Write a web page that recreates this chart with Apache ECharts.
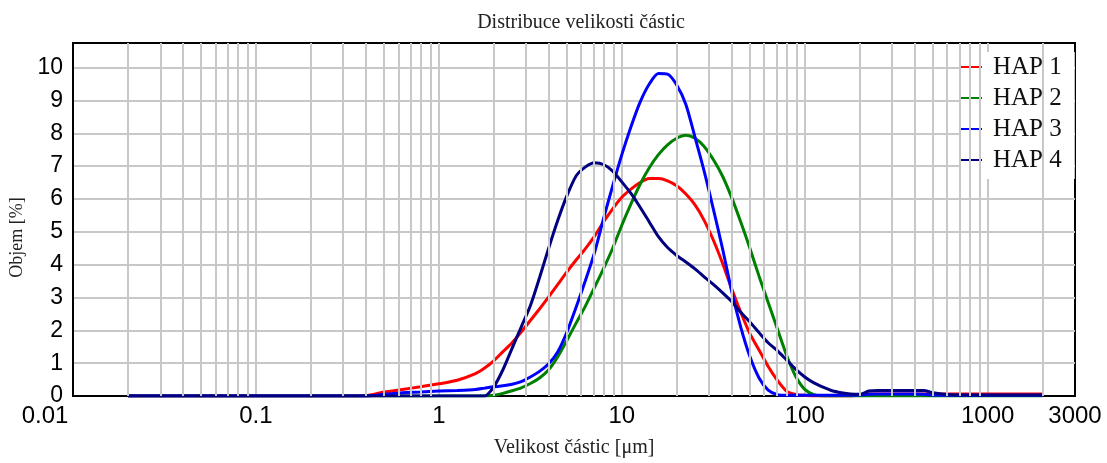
<!DOCTYPE html>
<html>
<head>
<meta charset="utf-8">
<script src="https://cdn.jsdelivr.net/npm/echarts@6/dist/echarts.min.js"></script>
<style>
html,body{margin:0;padding:0;background:#fff;}
#chart{width:1107px;height:463px;}
</style>
</head>
<body>
<div id="chart"></div>
<script>
// Particle size (µm), log-spaced
const sizes = [
  0.02, 0.316, 0.398, 0.501, 0.631, 0.794, 1, 1.259, 1.585,
  1.778, 1.995, 2.239, 2.512, 2.818, 3.162, 3.548, 3.981, 4.467, 5.012,
  5.623, 6.310, 7.079, 7.943, 8.913, 10, 11.22, 12.59, 14.13, 15.85,
  17.78, 19.95, 22.39, 25.12, 28.18, 31.62, 35.48, 39.81, 44.67, 50.12,
  56.23, 63.10, 70.79, 79.43, 89.13, 100, 112.2, 125.9, 141.3, 158.5,
  177.8, 199.5,
  223.9, 251.2, 316.2, 398.1, 446.7, 501.2, 631, 794, 1000, 1259, 1585, 1995];

const hap1 = [
  0, 0, 0.01, 0.12, 0.2, 0.28, 0.37, 0.48, 0.68,
  0.85, 1.07, 1.35, 1.62, 1.95, 2.3, 2.65, 3.02, 3.4, 3.78,
  4.14, 4.48, 4.86, 5.3, 5.7, 6.05, 6.3, 6.5, 6.62, 6.62,
  6.55, 6.4, 6.15, 5.82, 5.35, 4.75, 4.05, 3.27, 2.55, 1.9,
  1.4, 0.9, 0.48, 0.15, 0.05, 0.02, 0, 0, 0, 0,
  0, 0.03,
  0.06, 0.06, 0.06, 0.06, 0.06, 0.06, 0.06, 0.06, 0.06, 0.06, 0.06, 0.06];

const hap2 = [
  0, 0, 0, 0, 0, 0, 0, 0, 0,
  0, 0.02, 0.08, 0.16, 0.25, 0.38, 0.55, 0.8, 1.2, 1.7,
  2.22, 2.73, 3.3, 3.88, 4.5, 5.2, 5.85, 6.45, 6.95, 7.35,
  7.65, 7.85, 7.94, 7.85, 7.6, 7.2, 6.7, 6.05, 5.3, 4.5,
  3.65, 2.85, 2.05, 1.25, 0.6, 0.2, 0.04, 0, 0, 0,
  0, 0,
  0, 0, 0, 0, 0, 0, 0, 0, 0, 0, 0, 0];

const hap3 = [
  0, 0, 0, 0.05, 0.1, 0.12, 0.15, 0.17, 0.2,
  0.24, 0.28, 0.31, 0.36, 0.44, 0.58, 0.75, 0.98, 1.35, 1.95,
  2.7, 3.5, 4.35, 5.4, 6.4, 7.35, 8.2, 8.95, 9.5, 9.82,
  9.8, 9.47, 8.88, 7.88, 6.85, 5.7, 4.5, 3.2, 2.1, 1.2,
  0.55, 0.18, 0.04, 0.02, 0.02, 0.02, 0.02, 0.02, 0.02, 0.02,
  0.02, 0.03,
  0.05, 0.06, 0.06, 0.06, 0.05, 0.03, 0.02, 0.02, 0.02, 0.02, 0.02, 0.02];

const hap4 = [
  0, 0, 0, 0, 0, 0, 0, 0, 0,
  0, 0.28, 0.8, 1.45, 2.1, 2.75, 3.6, 4.5, 5.35, 6.1,
  6.7, 6.97, 7.1, 7.05, 6.85, 6.52, 6.17, 5.75, 5.3, 4.85,
  4.52, 4.28, 4.08, 3.87, 3.63, 3.4, 3.15, 2.88, 2.55, 2.25,
  1.93, 1.62, 1.38, 1.1, 0.82, 0.58, 0.4, 0.27, 0.16, 0.1,
  0.06, 0.05,
  0.15, 0.17, 0.17, 0.17, 0.17, 0.1, 0.04, 0.03, 0.03, 0.03, 0.03, 0.03];

const seriesNames = ['HAP 1', 'HAP 2', 'HAP 3', 'HAP 4'];
const seriesColors = ['#ff0000', '#008000', '#0000ff', '#000080'];
const seriesValues = [hap1, hap2, hap3, hap4];

const titleText = 'Distribuce velikosti částic';
const xName = 'Velikost částic [μm]';
const yName = 'Objem [%]';
const xMin = 0.01;
const xMax = 3000;

// minor vertical grid lines (2..9 × each decade)
const minorGrid = [];
for (let e = -2; e <= 3; e++) {
  for (let k = 2; k <= 9; k++) {
    const v = +(k * Math.pow(10, e)).toPrecision(3);
    if (v < xMax) minorGrid.push(v);
  }
}

const gridColor = '#c8c8c8';
const labelFont = 'Liberation Sans';
const chart = echarts.init(document.getElementById('chart'), null, {renderer: 'canvas'});

const series = seriesNames.map((name, si) => ({
  name: name,
  type: 'line',
  data: sizes.map((s, i) => [s, seriesValues[si][i]]),
  smooth: 0.25,
  symbol: 'none',
  z: 3,
  lineStyle: {width: 3, color: seriesColors[si]},
  itemStyle: {color: seriesColors[si]},
  emphasis: {disabled: true},
  animation: false
}));

series.unshift({
  name: 'minor-grid',
  type: 'line',
  data: [],
  silent: true,
  z: 1,
  animation: false,
  markLine: {
    silent: true,
    animation: false,
    symbol: ['none', 'none'],
    label: {show: false},
    emphasis: {disabled: true},
    lineStyle: {color: gridColor, width: 2, type: 'solid'},
    data: minorGrid.map(v => ({xAxis: v}))
  }
});

const option = {
  backgroundColor: '#ffffff',
  animation: false,
  title: {
    text: titleText,
    left: 576,
    textAlign: 'center',
    top: 8,
    textStyle: {fontFamily: 'Liberation Serif', fontSize: 20, fontWeight: 'normal', color: '#222'}
  },
  grid: {
    left: 73, right: 32, top: 43, bottom: 63,
    show: true, borderColor: '#000', borderWidth: 2, backgroundColor: 'transparent'
  },
  legend: {
    data: seriesNames,
    orient: 'vertical',
    left: 959,
    top: 52,
    backgroundColor: '#ffffff',
    padding: [2, 13, 6, 0],
    icon: 'rect',
    itemWidth: 23,
    itemHeight: 2,
    itemGap: 5,
    textStyle: {fontFamily: 'Liberation Serif', fontSize: 25, color: '#111', lineHeight: 26, padding: [0, 0, 0, 6]}
  },
  xAxis: {
    type: 'log',
    logBase: 10,
    min: xMin,
    max: xMax,
    name: xName,
    nameLocation: 'middle',
    nameGap: 42,
    nameTextStyle: {fontFamily: 'Liberation Serif', fontSize: 20, color: '#222'},
    axisLine: {show: true, lineStyle: {color: '#000', width: 2}},
    axisTick: {show: false},
    splitLine: {show: true, showMinLine: false, showMaxLine: false, lineStyle: {color: gridColor, width: 2}},
    axisLabel: {
      fontFamily: labelFont, fontSize: 24, color: '#000', margin: 8,
      formatter: v => {
        const t = String(+Number(v).toPrecision(6));
        return Math.abs(v - xMin) < 1e-9 ? '{first|' + t + '}' : t;
      },
      rich: {
        first: {fontFamily: labelFont, fontSize: 24, color: '#000', padding: [0, 56, 0, 0]}
      }
    }
  },
  yAxis: {
    type: 'value',
    min: 0,
    max: 10.75,
    interval: 1,
    name: yName,
    nameLocation: 'middle',
    nameGap: 47,
    nameRotate: 90,
    nameTextStyle: {fontFamily: 'Liberation Serif', fontSize: 18, color: '#222', padding: [0, 36, 0, 0]},
    axisLine: {show: true, lineStyle: {color: '#000', width: 2}},
    axisTick: {show: false},
    splitLine: {show: true, showMinLine: false, showMaxLine: false, lineStyle: {color: gridColor, width: 2}},
    axisLabel: {fontFamily: labelFont, fontSize: 23, color: '#000', margin: 10, showMaxLabel: false}
  },
  series: series
};

chart.setOption(option);
</script>
</body>
</html>
